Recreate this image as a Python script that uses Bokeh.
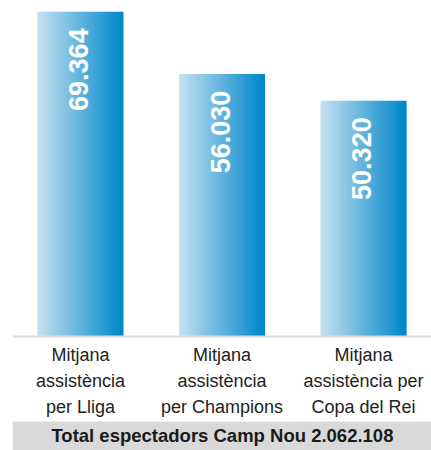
from bokeh.plotting import figure
from bokeh.models import ColumnDataSource, Range1d, Span, BoxAnnotation
from bokeh.core.properties import value
from bokeh.embed import file_html
from bokeh.resources import INLINE

# ---- data ----
categories = ["Mitjana\nassistència\nper Lliga",
              "Mitjana\nassistència\nper Champions",
              "Mitjana\nassistència per\nCopa del Rei"]
values = [69364, 56030, 50320]
value_labels = ["69.364", "56.030", "50.320"]
total_label = "Total espectadors Camp Nou  2.062.108"

# ---- layout / style ----
BAR_W = 0.60
N_STRIPS = 42
LEFT_RGB = (196, 224, 240)
RIGHT_RGB = (0, 136, 203)
Y_TOP = 71900
Y_BOTTOM = -24400
BOX_TOP = -18200

xs = list(range(len(values)))

p = figure(width=431, height=450, output_backend="svg", toolbar_location=None,
           x_range=Range1d(-0.48, 2.48), y_range=Range1d(Y_BOTTOM, Y_TOP),
           min_border_left=12, min_border_right=0, min_border_top=0, min_border_bottom=0)
p.axis.visible = False
p.grid.visible = False
p.outline_line_color = None
p.background_fill_color = "white"

# gradient bars as thin stripes
sx, stop, scol = [], [], []
sw = BAR_W / N_STRIPS
for i, v in zip(xs, values):
    for k in range(N_STRIPS):
        t = k / (N_STRIPS - 1)
        r = round(LEFT_RGB[0] + (RIGHT_RGB[0] - LEFT_RGB[0]) * t)
        g = round(LEFT_RGB[1] + (RIGHT_RGB[1] - LEFT_RGB[1]) * t)
        b = round(LEFT_RGB[2] + (RIGHT_RGB[2] - LEFT_RGB[2]) * t)
        sx.append(i - BAR_W / 2 + (k + 0.5) * sw)
        stop.append(v)
        scol.append("#%02x%02x%02x" % (r, g, b))
strips = ColumnDataSource(dict(x=sx, top=stop, color=scol))
p.vbar(x="x", top="top", bottom=0, width=sw, fill_color="color", line_color="color",
       line_width=1.2, source=strips)

# baseline
p.add_layout(Span(location=0, dimension="width", line_color="#dddddd", line_width=2))

src = ColumnDataSource(dict(x=xs, y=values, lab=value_labels, cat=categories,
                            zero=[0] * len(xs)))

# value labels (rotated)
p.text(x="x", y="y", text="lab", source=src, angle=1.5708,
       text_align="right", text_baseline="middle", y_offset=16, x_offset=-2,
       text_color="white", text_font=value("Liberation Sans"), text_font_style="bold",
       text_font_size="27px")

# category labels
p.text(x="x", y="zero", text="cat", source=src, text_align="center", text_baseline="top",
       y_offset=9, text_color="#222222", text_font=value("Liberation Sans"),
       text_font_size="18px", text_line_height=1.3)

# total box
p.add_layout(BoxAnnotation(top=BOX_TOP, fill_color="#d9d9d9", fill_alpha=1.0, line_color=None,
                           level="underlay"))
p.text(x=[1.0], y=[BOX_TOP], text=[total_label], text_align="center", text_baseline="middle",
       y_offset=14, x_offset=3, text_color="#1a1a1a", text_font=value("Liberation Sans"),
       text_font_style="bold", text_font_size="18.5px")

open("out.html", "w").write(file_html(p, INLINE))
